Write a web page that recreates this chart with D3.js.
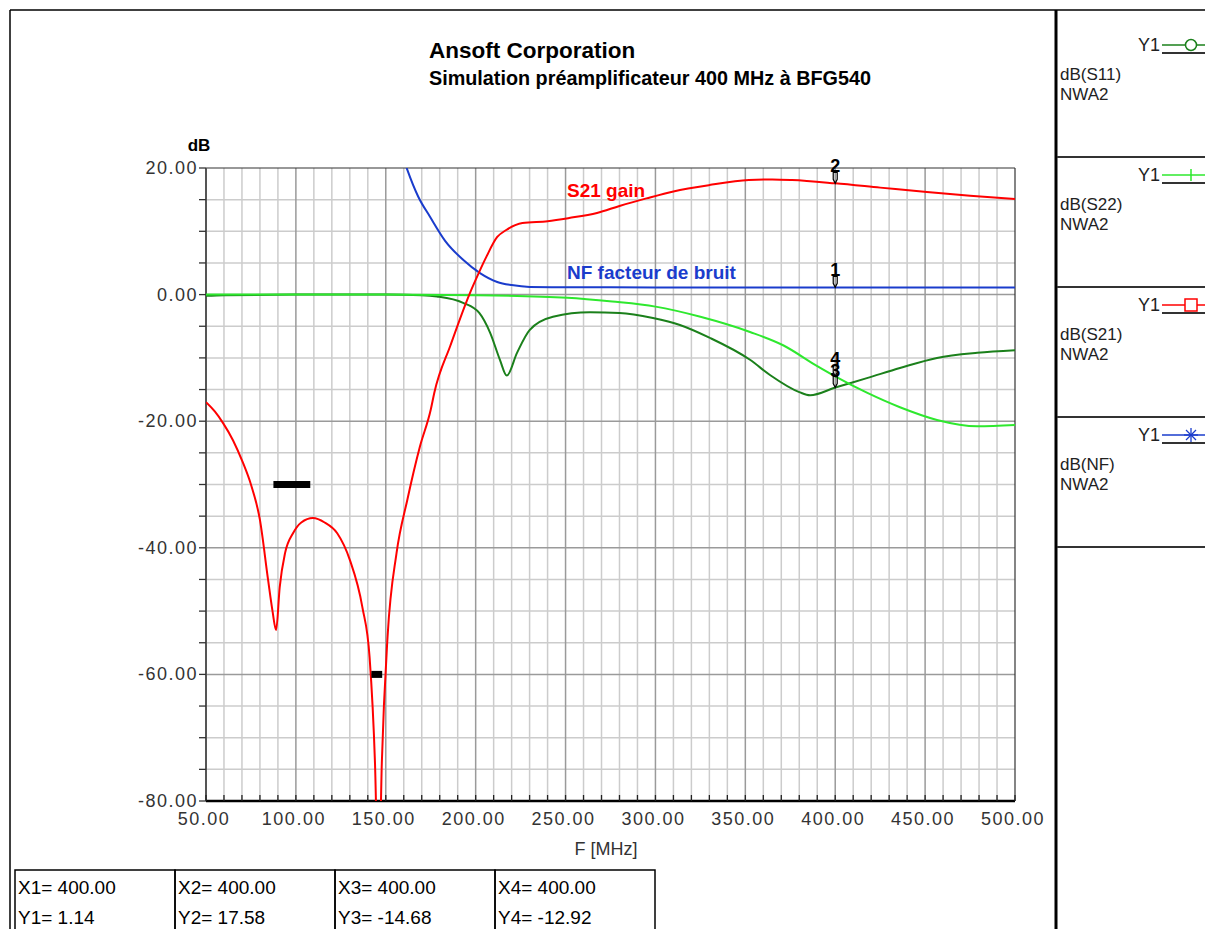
<!DOCTYPE html>
<head>
  <meta charset="utf-8">
  <script src="https://d3js.org/d3.v7.min.js"></script>
  <style>
    body { margin: 0; background: white; }
    svg { display: block; font-family: "Liberation Sans", Arial, sans-serif; }
    .tick-label { font-size: 18px; fill: #333; letter-spacing: 1.5px; }
  </style>
</head>

<body>
  <svg width="1205" height="929"></svg>

  <script>
    // frequency points (MHz) and dB values
    const s21F = [50, 55, 59.5, 65, 70.6, 75, 80, 84.5, 87, 89, 91, 94, 98.4, 103, 109.5, 116, 123, 130, 137, 141, 144, 146, 147.8, 151, 156, 162, 169, 175, 177, 186, 196.8, 202, 206, 212, 217, 226, 240, 252, 267.5, 280, 295, 310, 330, 352, 365, 376, 400, 425, 451, 475, 500];
    const s21V = [-17.0, -18.5, -20.3, -23, -26.6, -30, -35.6, -45, -50, -53, -46.2, -40.8, -37.7, -36.0, -35.3, -36.0, -37.7, -41.9, -49.4, -57.3, -74, -95, -74, -54, -40.8, -32.4, -24, -18.2, -15.5, -8, 0.25, 3.6, 6, 9.1, 10.2, 11.3, 11.6, 12.1, 12.9, 14.0, 15.2, 16.3, 17.3, 18.1, 18.2, 18.1, 17.58, 16.9, 16.2, 15.6, 15.1];

    const nfF = [155, 162, 168, 174.6, 183, 193, 202.4, 212, 220, 230, 250, 300, 400, 500];
    const nfV = [26, 19.7, 15.5, 12.3, 8.5, 5.5, 3.4, 2.0, 1.5, 1.2, 1.15, 1.14, 1.14, 1.14];

    const s22F = [50, 100, 150, 200, 251, 276, 300, 325, 352.6, 371, 390, 400, 417.6, 436, 456.6, 479, 500];
    const s22V = [0, 0, 0, -0.1, -0.5, -1.1, -1.9, -3.5, -5.9, -8, -11.3, -12.92, -15.5, -17.8, -19.8, -20.8, -20.6];

    const s11F = [50, 60, 100, 150, 170, 178.5, 193, 202, 208, 213.5, 217.3, 223, 230, 243, 263.6, 280, 298.6, 313.6, 330, 352.6, 363.7, 380, 386, 400, 417.6, 436, 456.6, 479, 500];
    const s11V = [-0.2, -0.1, 0, 0, -0.1, -0.3, -1.3, -2.9, -6, -10.3, -12.8, -9.2, -5.6, -3.5, -2.8, -2.9, -3.7, -4.8, -6.8, -10.3, -12.7, -15.4, -15.9, -14.68, -13.2, -11.6, -10, -9.2, -8.8];

    const markerNames = ['1', '2', '3', '4'];
    const markerX = [400, 400, 400, 400];
    const markerY = [1.14, 17.58, -14.68, -12.92];

    const xTicks = [50, 100, 150, 200, 250, 300, 350, 400, 450, 500];
    const yTicks = [20, 0, -20, -40, -60, -80];

    // spec mask bars: [f from, f to, level]
    const maskBars = [[87.5, 108, -30], [142, 148, -60]];

    const legendNames = ['dB(S11)', 'dB(S22)', 'dB(S21)', 'dB(NF)'];
    const legendSymbols = ['circle', 'plus', 'square', 'star'];

    const colS11 = '#1b801b', colS22 = '#2ee82e', colS21 = '#ff0000', colNF = '#1a3ccc';
    const legendColors = [colS11, colS22, colS21, colNF];

    const fmt = v => v.toFixed(2);

    const svg = d3.select('svg');
    const x = d3.scaleLinear().domain([50, 500]).range([206, 1015]);
    const y = d3.scaleLinear().domain([-80, 20]).range([801, 168]);

    // outer frame
    svg.append('line').attr('x1', 10).attr('x2', 1205).attr('y1', 10).attr('y2', 10).attr('stroke', '#000').attr('stroke-width', 1.5);
    svg.append('line').attr('x1', 10).attr('x2', 10).attr('y1', 10).attr('y2', 929).attr('stroke', '#000').attr('stroke-width', 1.5);
    svg.append('line').attr('x1', 1056).attr('x2', 1056).attr('y1', 10).attr('y2', 929).attr('stroke', '#000').attr('stroke-width', 3);

    // titles
    svg.append('text').attr('x', 429).attr('y', 58).attr('font-weight', 'bold').attr('font-size', 22.5).text('Ansoft Corporation');
    svg.append('text').attr('x', 429).attr('y', 85).attr('font-weight', 'bold').attr('font-size', 19.8).text('Simulation préamplificateur 400 MHz à BFG540');

    // grid
    const g = svg.append('g');
    const minorX = d3.range(60, 500, 10).filter(v => v % 50 !== 0);
    const minorY = d3.range(-75, 20, 5).filter(v => v % 20 !== 0);
    g.selectAll('.gx').data(minorX).enter().append('line')
      .attr('x1', d => x(d)).attr('x2', d => x(d)).attr('y1', y(20)).attr('y2', y(-80))
      .attr('stroke', '#cccccc').attr('stroke-width', 1.5);
    g.selectAll('.gy').data(minorY).enter().append('line')
      .attr('x1', x(50)).attr('x2', x(500)).attr('y1', d => y(d)).attr('y2', d => y(d))
      .attr('stroke', '#cccccc').attr('stroke-width', 1.5);
    g.selectAll('.gX').data(xTicks.slice(1, -1)).enter().append('line')
      .attr('x1', d => x(d)).attr('x2', d => x(d)).attr('y1', y(20)).attr('y2', y(-80))
      .attr('stroke', '#9a9a9a').attr('stroke-width', 1.5);
    g.selectAll('.gY').data(yTicks.slice(1, -1)).enter().append('line')
      .attr('x1', x(50)).attr('x2', x(500)).attr('y1', d => y(d)).attr('y2', d => y(d))
      .attr('stroke', '#9a9a9a').attr('stroke-width', 1.5);

    // plot border
    g.append('line').attr('x1', x(50)).attr('x2', x(500)).attr('y1', y(20)).attr('y2', y(20)).attr('stroke', '#333').attr('stroke-width', 1.2);
    g.append('line').attr('x1', x(500)).attr('x2', x(500)).attr('y1', y(20)).attr('y2', y(-80)).attr('stroke', '#333').attr('stroke-width', 1.2);
    g.append('line').attr('x1', x(50)).attr('x2', x(50)).attr('y1', y(20)).attr('y2', y(-80)).attr('stroke', '#555').attr('stroke-width', 2);
    g.append('line').attr('x1', x(50)).attr('x2', x(500)).attr('y1', y(-80)).attr('y2', y(-80)).attr('stroke', '#000').attr('stroke-width', 2.5);

    // axis ticks
    g.selectAll('.ty').data(d3.range(-80, 21, 5)).enter().append('line')
      .attr('x1', x(50) - 7).attr('x2', x(50)).attr('y1', d => y(d)).attr('y2', d => y(d))
      .attr('stroke', '#333').attr('stroke-width', 1.3);
    g.selectAll('.tx').data(d3.range(50, 501, 10)).enter().append('line')
      .attr('x1', d => x(d)).attr('x2', d => x(d)).attr('y1', y(-80) - 6).attr('y2', y(-80))
      .attr('stroke', '#222').attr('stroke-width', 1.3);

    // tick labels
    g.selectAll('.ly').data(yTicks).enter().append('text')
      .attr('class', 'tick-label').attr('x', 198).attr('y', d => y(d) + 6)
      .attr('text-anchor', 'end').text(d => fmt(d));
    g.selectAll('.lx').data(xTicks).enter().append('text')
      .attr('class', 'tick-label').attr('x', d => x(d) - 2).attr('y', 825)
      .attr('text-anchor', 'middle').text(d => fmt(d));

    svg.append('text').attr('x', 199).attr('y', 151).attr('text-anchor', 'middle').attr('font-weight', 'bold').attr('font-size', 17).text('dB');
    svg.append('text').attr('x', 606).attr('y', 855).attr('text-anchor', 'middle').attr('font-size', 18).attr('fill', '#333').text('F [MHz]');

    // curves
    svg.append('clipPath').attr('id', 'clip').append('rect')
      .attr('x', x(50)).attr('y', y(20)).attr('width', x(500) - x(50)).attr('height', y(-80) - y(20));
    const line = d3.line().x(d => x(d[0])).y(d => y(d[1])).curve(d3.curveMonotoneX);
    const curves = [[s11F, s11V, colS11], [s22F, s22V, colS22], [nfF, nfV, colNF], [s21F, s21V, colS21]];
    const cg = svg.append('g').attr('clip-path', 'url(#clip)');
    curves.forEach(([fs, vs, col]) => {
      cg.append('path').datum(d3.zip(fs, vs)).attr('d', line)
        .attr('fill', 'none').attr('stroke', col).attr('stroke-width', 2);
    });

    // mask bars
    svg.selectAll('.mask').data(maskBars).enter().append('rect')
      .attr('x', d => x(d[0])).attr('y', d => y(d[2]) - 3.5)
      .attr('width', d => x(d[1]) - x(d[0])).attr('height', 7).attr('fill', '#000');

    // curve labels
    svg.append('text').attr('x', 567).attr('y', 197).attr('font-weight', 'bold').attr('font-size', 19).attr('fill', colS21).text('S21 gain');
    svg.append('text').attr('x', 567).attr('y', 279).attr('font-weight', 'bold').attr('font-size', 19).attr('fill', colNF).text('NF facteur de bruit');

    // markers: shapes first, numbers on top
    markerNames.forEach((name, i) => {
      const mx = x(markerX[i]), my = y(markerY[i]);
      svg.append('path')
        .attr('d', `M${mx - 2},${my - 11} L${mx + 2},${my - 11} L${mx + 2},${my - 4} L${mx},${my} L${mx - 2},${my - 4} Z`)
        .attr('fill', 'none').attr('stroke', '#000').attr('stroke-width', 1.2);
    });
    markerNames.forEach((name, i) => {
      const mx = x(markerX[i]), my = y(markerY[i]);
      svg.append('text').attr('x', mx).attr('y', my - 11).attr('text-anchor', 'middle')
        .attr('font-weight', 'bold').attr('font-size', 18).text(name);
    });

    // legend panel
    legendNames.forEach((name, i) => {
      const top = 27 + i * 130;
      const col = legendColors[i];
      const ly = top + 18;
      svg.append('text').attr('x', 1160).attr('y', ly + 6).attr('text-anchor', 'end').attr('font-size', 18).attr('fill', '#222').text('Y1');
      svg.append('line').attr('x1', 1162).attr('x2', 1205).attr('y1', ly).attr('y2', ly).attr('stroke', col).attr('stroke-width', 1.5);
      svg.append('line').attr('x1', 1162).attr('x2', 1205).attr('y1', ly + 8).attr('y2', ly + 8).attr('stroke', '#333').attr('stroke-width', 2);
      const sx = 1191;
      const sym = legendSymbols[i];
      if (sym === 'circle') {
        svg.append('circle').attr('cx', sx).attr('cy', ly).attr('r', 5.5).attr('fill', 'white').attr('stroke', col).attr('stroke-width', 1.5);
      } else if (sym === 'square') {
        svg.append('rect').attr('x', sx - 6).attr('y', ly - 6).attr('width', 12).attr('height', 12).attr('fill', 'white').attr('stroke', col).attr('stroke-width', 1.5);
      } else if (sym === 'plus') {
        svg.append('line').attr('x1', sx).attr('x2', sx).attr('y1', ly - 6).attr('y2', ly + 6).attr('stroke', col).attr('stroke-width', 1.5);
      } else {
        [[0, -7, 0, 7], [-7, 0, 7, 0], [-5, -5, 5, 5], [-5, 5, 5, -5]].forEach(s => {
          svg.append('line').attr('x1', sx + s[0]).attr('y1', ly + s[1]).attr('x2', sx + s[2]).attr('y2', ly + s[3]).attr('stroke', col).attr('stroke-width', 1.3);
        });
      }
      svg.append('text').attr('x', 1060).attr('y', top + 53).attr('font-size', 17).attr('fill', '#222').text(name);
      svg.append('text').attr('x', 1060).attr('y', top + 73).attr('font-size', 17).attr('fill', '#222').text('NWA2');
      svg.append('line').attr('x1', 1057).attr('x2', 1205).attr('y1', top + 130).attr('y2', top + 130).attr('stroke', '#333').attr('stroke-width', 2);
    });

    // marker readout table
    const tbl = svg.append('g');
    markerNames.forEach((name, i) => {
      const cx = 15 + i * 160;
      tbl.append('rect').attr('x', cx).attr('y', 870).attr('width', 160).attr('height', 70)
        .attr('fill', 'none').attr('stroke', '#000').attr('stroke-width', 1.5);
      tbl.append('text').attr('x', cx + 3).attr('y', 894).attr('font-size', 19).text(`X${name}= ${fmt(markerX[i])}`);
      tbl.append('text').attr('x', cx + 3).attr('y', 924).attr('font-size', 19).text(`Y${name}= ${fmt(markerY[i])}`);
    });
  </script>
</body>
